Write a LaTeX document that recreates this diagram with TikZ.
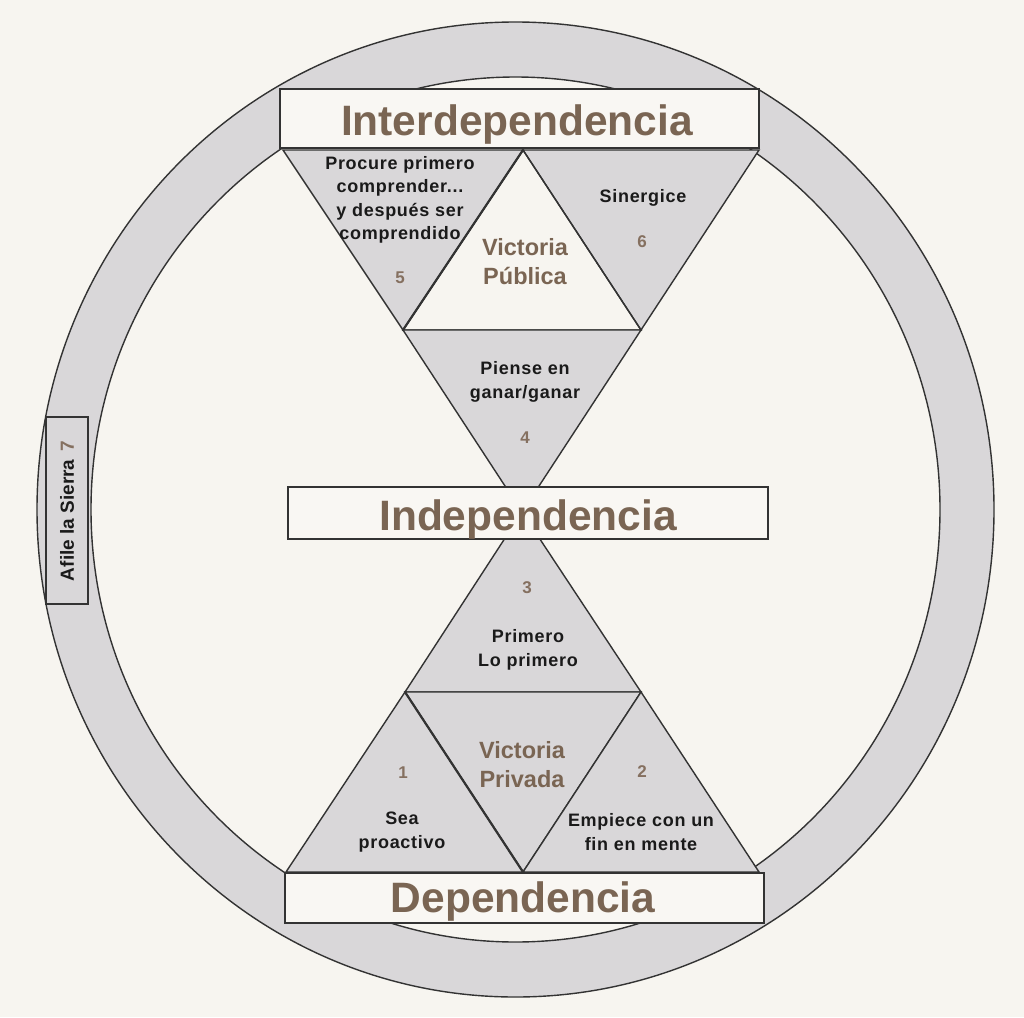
\documentclass[tikz,border=0pt]{standalone}
\usepackage{fontspec}
\setmainfont{Liberation Sans}
\newfontfamily\spacedfont[LetterSpace=4]{Liberation Sans}
\definecolor{bgc}{HTML}{F7F5F0}
\definecolor{ringc}{HTML}{D9D7D9}
\definecolor{boxc}{HTML}{F9F7F3}
\definecolor{lnc}{HTML}{333333}
\definecolor{brownc}{HTML}{7A6553}
\definecolor{numc}{HTML}{857060}
\definecolor{txtc}{HTML}{1A1A1A}
\begin{document}
\begin{tikzpicture}[x=1pt,y=-1pt,line join=miter,
  ln/.style={draw=lnc,line width=1.4pt},
  tri/.style={ln,fill=ringc},
  hbox/.style={ln,fill=boxc},
  head/.style={text=brownc,font=\bfseries\fontsize{42.5}{50}\selectfont,anchor=base,inner sep=0pt},
  small/.style={text=txtc,font=\spacedfont\bfseries\fontsize{18}{23.5}\selectfont,align=center,inner sep=0pt},
  num/.style={text=numc,font=\bfseries\fontsize{17}{20}\selectfont,inner sep=0pt},
  vic/.style={text=brownc,font=\bfseries\fontsize{23.5}{29}\selectfont,align=center,inner sep=0pt}]
\useasboundingbox (0,0) rectangle (1024,1017);
\fill[bgc] (0,0) rectangle (1024,1017);
% ring
\fill[ringc,even odd rule] (515.5,509.5) ellipse [x radius=478.5, y radius=487.5]
  (515.5,509.5) ellipse [x radius=424.5, y radius=432.5];
\draw[ln] (515.5,509.5) ellipse [x radius=478.5, y radius=487.5];
\draw[ln] (515.5,509.5) ellipse [x radius=424.5, y radius=432.5];
% Afile box
\draw[ln,fill=ringc] (46,417) rectangle (88,604);
\node[rotate=90,text=txtc,font=\bfseries\fontsize{19}{22}\selectfont,inner sep=0pt] (afile) at (67,511) {Afile la Sierra\hspace{8pt}\textcolor{numc}{7}};
% coordinates
\coordinate (T1) at (283,150);
\coordinate (T2) at (523,150);
\coordinate (T3) at (759,150);
\coordinate (M1) at (403,330);
\coordinate (M2) at (641,330);
\coordinate (C) at (522,512);
\coordinate (B1) at (405,692);
\coordinate (B2) at (641,692);
\coordinate (L1) at (286,872);
\coordinate (L2) at (523,872);
\coordinate (L3) at (759,872);
% triangles
\draw[tri] (T1) -- (T2) -- (M1) -- cycle;
\draw[tri] (T2) -- (T3) -- (M2) -- cycle;
\draw[ln] (M1) -- (M2) -- (T2) -- cycle;
\draw[tri] (M1) -- (M2) -- (C) -- cycle;
\draw[tri] (C) -- (B2) -- (B1) -- cycle;
\draw[tri] (B1) -- (B2) -- (L2) -- cycle;
\draw[tri] (B1) -- (L2) -- (L1) -- cycle;
\draw[tri] (B2) -- (L3) -- (L2) -- cycle;
\draw[lnc,line width=2.2pt] (M1) -- (T2);
\draw[lnc,line width=2.2pt] (B1) -- (L2);
% boxes
\draw[hbox] (280,89) rectangle (759,148);
\draw[hbox] (288,487) rectangle (768,539);
\draw[hbox] (285,873) rectangle (764,923);
\node[head] (inter) at (517,135) {Interdependencia};
\node[head] (indep) at (528,530) {Independencia};
\node[head] (dep) at (523,912) {Dependencia};
% texts
\node[small] (t5) at (400,200) {Procure primero\\comprender...\\y después ser\\comprendido};
\node[num] (n5) at (400,278) {5};
\node[small] (t6) at (643,198) {Sinergice};
\node[num] (n6) at (642,242) {6};
\node[vic] (vpub) at (525,262) {Victoria\\Pública};
\node[small] (t4) at (525,382) {Piense en\\ganar/ganar};
\node[num] (n4) at (525,438) {4};
\node[num] (n3) at (527,588) {3};
\node[small] (t3) at (528,650) {Primero\\Lo primero};
\node[vic] (vpriv) at (522,765) {Victoria\\Privada};
\node[num] (n1) at (403,773) {1};
\node[num] (n2) at (642,772) {2};
\node[small] (t1) at (402,832) {Sea\\proactivo};
\node[small] (t2) at (641,832) {Empiece con un\\fin en mente};
\end{tikzpicture}
\end{document}
